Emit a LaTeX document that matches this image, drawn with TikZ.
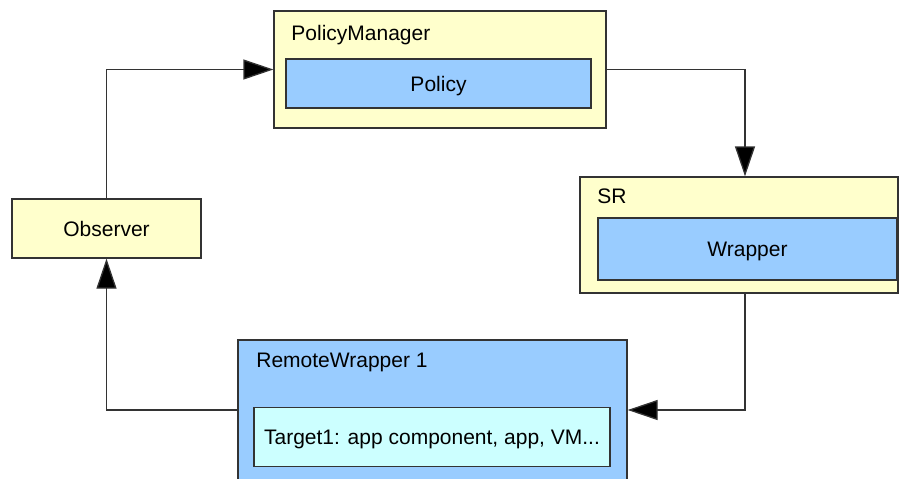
\documentclass[tikz,border=0pt]{standalone}
\usepackage{fontspec}
\setmainfont{Liberation Sans}
\usetikzlibrary{arrows.meta}
\definecolor{paleyellow}{HTML}{FFFFCC}
\definecolor{paleblue}{HTML}{99CCFF}
\definecolor{palecyan}{HTML}{CCFFFF}
\definecolor{linegray}{HTML}{333333}

\begin{document}
\begin{tikzpicture}[x=0.5pt,y=-0.5pt,font=\fontsize{10.5}{12.6}\selectfont,
		box/.style={draw=linegray,line width=0.65pt,inner sep=0pt,text depth=0pt},
		label/.style={anchor=base west,inner sep=0pt},
		flow/.style={draw=linegray,line width=0.65pt,-{Triangle[length=15pt,width=10pt,fill=black]}}]
	\useasboundingbox (0,0) rectangle (899,478);
	\clip (0,0) rectangle (899,478);
	% containers
	\node[box,fill=paleyellow,minimum width=166pt,minimum height=58.5pt] (pm) at (440,69.5) {};
	\node[box,fill=paleyellow,minimum width=159pt,minimum height=58pt] (sr) at (739,235) {};
	\node[box,fill=paleblue,minimum width=194.5pt,minimum height=70pt] (rw) at (432.5,410) {};
	\node[box,fill=paleyellow,minimum width=94.5pt,minimum height=29.5pt] (obs) at (106.5,228.5) {Observer};
	% inner boxes
	\node[box,fill=paleblue,minimum width=152.5pt,minimum height=24.5pt] (policy) at (438.5,83.5) {Policy};
	\node[box,fill=paleblue,minimum width=149.5pt,minimum height=31pt] (wrapper) at (747.5,249) {Wrapper};
	\node[box,fill=palecyan,minimum width=178pt,minimum height=29.5pt] (target) at (432,437) {Target1: app component, app, VM...};
	% titles
	\node[label] (pmtitle) at (291,40) {PolicyManager};
	\node[label] (srtitle) at (597,203) {SR};
	\node[label] (rwtitle) at (256,367.5) {RemoteWrapper 1};
	% loop
	\draw[flow] (obs.north) |- (pm.west);
	\draw[flow] (pm.east) -| ([xshift=3pt]sr.north);
	\draw[flow] ([xshift=3pt]sr.south) |- (rw.east);
	\draw[flow] (rw.west) -| (obs.south);
\end{tikzpicture}
\end{document}
